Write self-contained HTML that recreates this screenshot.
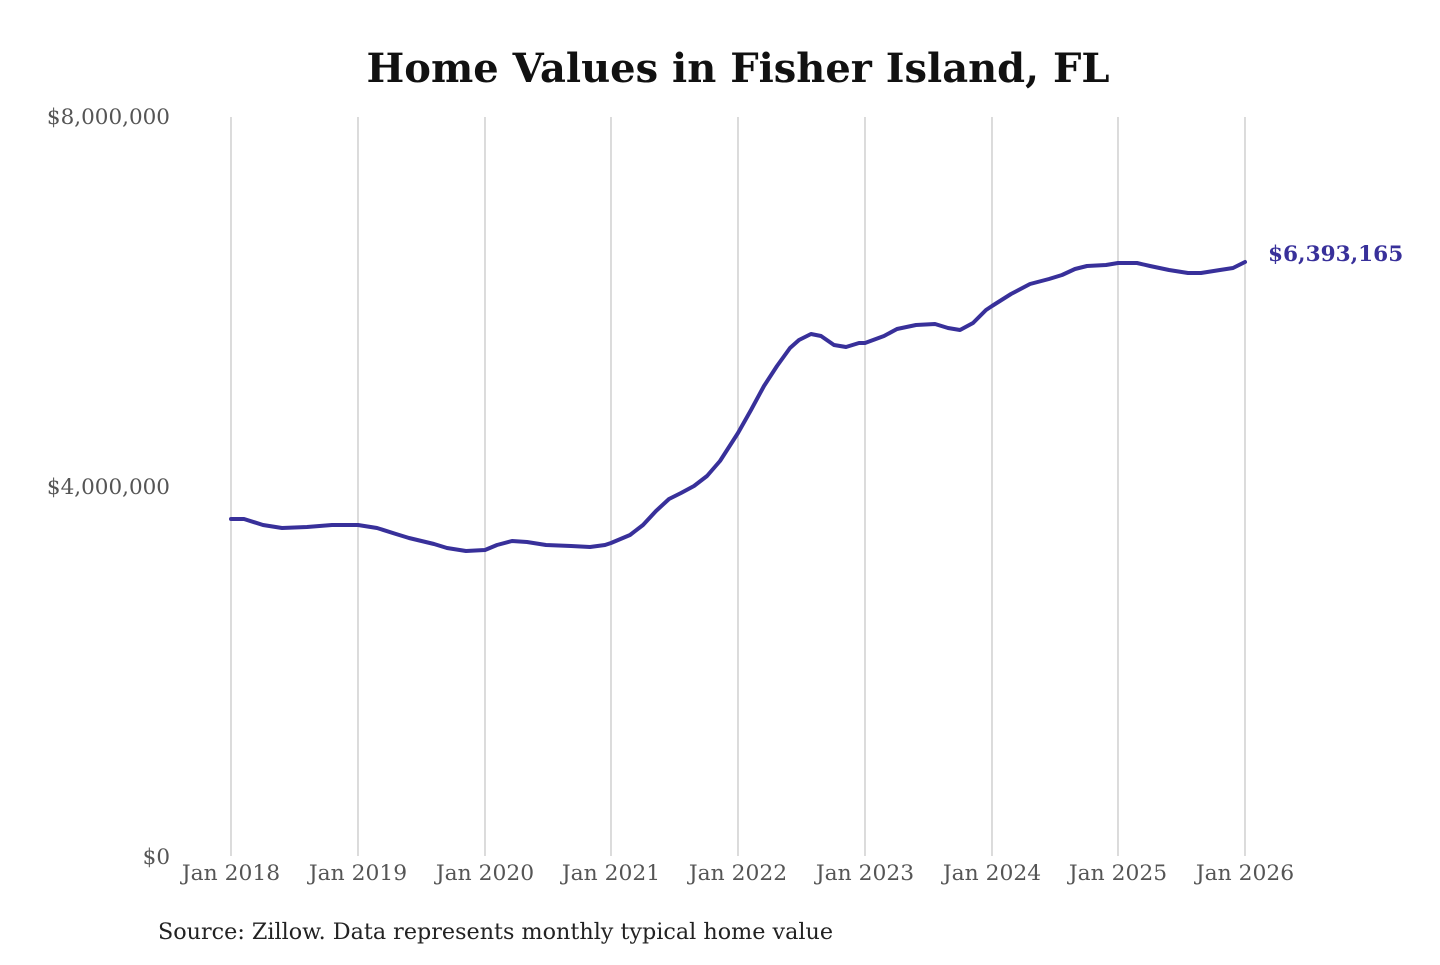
<!DOCTYPE html>
<html><head><meta charset="utf-8"><style>
html,body{margin:0;padding:0;background:#fff;}
svg text{font-family:"DejaVu Serif","Liberation Serif",serif;}
</style></head><body>
<svg width="1440" height="960" viewBox="0 0 1440 960" xmlns="http://www.w3.org/2000/svg">
<rect width="1440" height="960" fill="#fff"/>
<text x="738" y="82" text-anchor="middle" font-size="40" font-weight="bold" fill="#111" textLength="743" lengthAdjust="spacingAndGlyphs">Home Values in Fisher Island, FL</text>
<g stroke="#c8c8c8" stroke-width="1.3">
<line x1="231" y1="117" x2="231" y2="856"/>
<line x1="358" y1="117" x2="358" y2="856"/>
<line x1="485" y1="117" x2="485" y2="856"/>
<line x1="611" y1="117" x2="611" y2="856"/>
<line x1="738" y1="117" x2="738" y2="856"/>
<line x1="865" y1="117" x2="865" y2="856"/>
<line x1="992" y1="117" x2="992" y2="856"/>
<line x1="1118" y1="117" x2="1118" y2="856"/>
<line x1="1245" y1="117" x2="1245" y2="856"/>
</g>
<g font-size="21.5" fill="#555" text-anchor="end">
<text x="170" y="124">$8,000,000</text>
<text x="170" y="494">$4,000,000</text>
<text x="170" y="864">$0</text>
</g>
<g font-size="21.8" fill="#555" text-anchor="middle">
<text x="231" y="880">Jan 2018</text>
<text x="358" y="880">Jan 2019</text>
<text x="485" y="880">Jan 2020</text>
<text x="611" y="880">Jan 2021</text>
<text x="738" y="880">Jan 2022</text>
<text x="865" y="880">Jan 2023</text>
<text x="992" y="880">Jan 2024</text>
<text x="1118" y="880">Jan 2025</text>
<text x="1245" y="880">Jan 2026</text>
</g>
<polyline fill="none" stroke="#38309a" stroke-width="4" stroke-linejoin="round" stroke-linecap="round" points="
231,519 244,519 263,525 282,528 307,527 332,525 358,525 377,528 396,534 409,538 434,544 447,548 466,551 485,550 497,545 512,541 527,542 546,545 571,546 590,547 605,545 611,543 630,535 643,525 656,511 669,499 681,493 694,486 707,476 720,461 738,433 751,410 764,386 777,366 790,348 799,340 811,334 821,336 834,345 846,347 859,343 865,343 884,336 897,329 916,325 935,324 948,328 960,330 973,323 986,310 992,306 1011,294 1030,284 1049,279 1062,275 1075,269 1087,266 1106,265 1118,263 1137,263 1150,266 1169,270 1188,273 1201,273 1220,270 1233,268 1245,262"/>
<text x="1268" y="261" font-size="21.6" font-weight="bold" fill="#38309a">$6,393,165</text>
<text x="158" y="939" font-size="22" fill="#222" textLength="675" lengthAdjust="spacingAndGlyphs">Source: Zillow. Data represents monthly typical home value</text>
</svg>
</body></html>
